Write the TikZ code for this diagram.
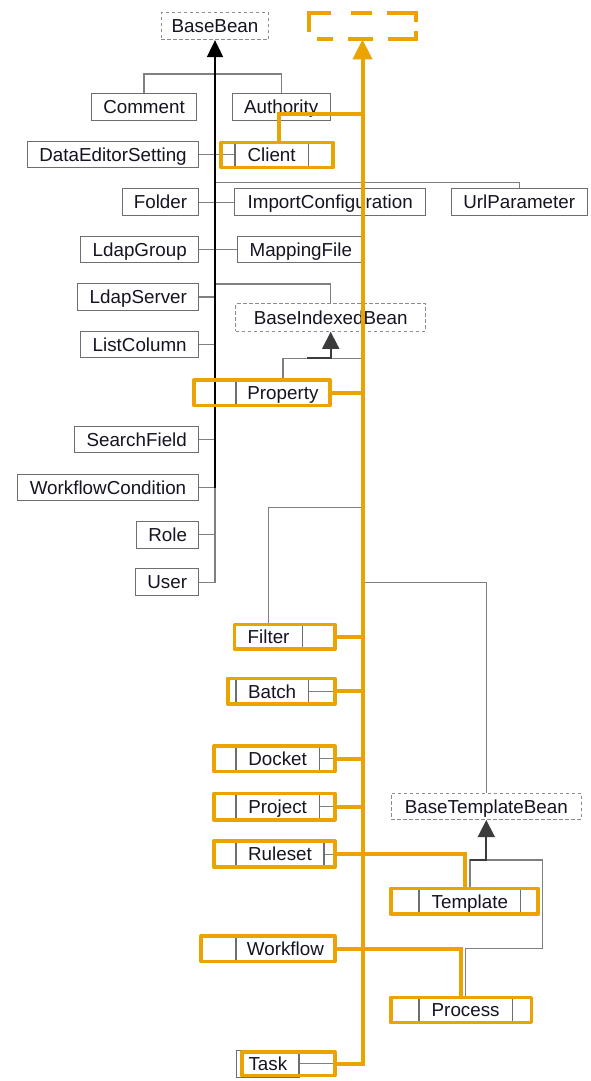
\documentclass[tikz,border=0pt]{standalone}
\usepackage{fontspec}
\setmainfont{Liberation Sans}
\usetikzlibrary{arrows.meta}
\definecolor{hlorange}{RGB}{234,163,0}
\definecolor{boxgray}{RGB}{110,110,110}
\definecolor{linegray}{RGB}{128,128,128}
\definecolor{dashgray}{RGB}{140,140,140}
\definecolor{darkline}{RGB}{60,60,60}
\definecolor{txt}{RGB}{20,20,35}
\tikzset{
  cls/.style={draw=boxgray, line width=1.2pt, fill=white, inner sep=0pt,
    minimum height=26.7pt, text height=13.5pt, text depth=0pt, text=txt,
    font=\fontsize{18.8}{22}\selectfont},
  acls/.style={cls, draw=dashgray, dash pattern=on 3.5pt off 2.5pt},
  inner/.style={cls, minimum height=27pt},
  hl/.style={draw=hlorange, line width=3.6pt, line join=round, inner sep=0pt},
  hlanchor/.style={inner sep=0pt, minimum width=107.5pt, minimum height=25.7pt},
  hldash/.style={draw=hlorange, line width=4pt,
    dash pattern=on 16pt off 15pt on 25pt off 15pt on 37.2pt off 9pt on 38.5pt off 15pt on 21pt off 20pt on 41pt off 13.7pt,
    dash phase=258.4pt},
  conn/.style={draw=linegray, line width=1.3pt},
  bline/.style={draw=black, line width=2pt},
  dline/.style={draw=darkline, line width=1.8pt},
  oconn/.style={draw=hlorange, line width=4pt},
}
\begin{document}
\begin{tikzpicture}[x=1pt,y=-1pt]
\fill[white] (0,0) rectangle (590,1081);
\useasboundingbox (0,0) rectangle (590,1081);

% ---------- named positions ----------
\coordinate (jU) at (215,182.3);
\coordinate (jB) at (215,284);
\coordinate (jC) at (362.5,114.3);
\coordinate (jP) at (362.5,358.3);
\coordinate (jPa) at (307,358.3);
\coordinate (jF) at (362.5,507.7);
\coordinate (jT) at (362.5,582.3);
\coordinate (tR) at (542.7,860);
\coordinate (tB) at (542.7,948.3);

% ---------- gray class boxes ----------
\node[acls, minimum width=107.6pt] (bb) at (215,26.2) {BaseBean};
\node[cls, minimum width=105.6pt] (comment) at (144,107.2) {Comment};
\node[cls, minimum width=98pt] (authority) at (281.2,107.2) {Authority};
\node[cls, minimum width=171.6pt] (des) at (113,154.5) {DataEditorSetting};
\node[cls, minimum width=76.6pt] (folder) at (160.5,202.2) {Folder};
\node[cls, minimum width=190.7pt] (impc) at (330.2,202.2) {ImportConfiguration};
\node[cls, minimum width=136pt] (urlp) at (519.2,202.2) {UrlParameter};
\node[cls, minimum width=118.3pt] (ldapg) at (139.7,249.5) {LdapGroup};
\node[cls, minimum width=127.3pt] (mapf) at (300.8,249.5) {MappingFile};
\node[cls, minimum width=121pt] (ldaps) at (138.3,297) {LdapServer};
\node[acls, minimum width=189.7pt, minimum height=27.4pt] (bib) at (330.7,317.5) {BaseIndexedBean};
\node[cls, minimum width=118.3pt] (listc) at (139.7,344.5) {ListColumn};
\node[cls, minimum width=124.3pt] (searchf) at (136.7,439.5) {SearchField};
\node[cls, minimum width=181.6pt] (wfc) at (108,487.5) {WorkflowCondition};
\node[cls, minimum width=62.3pt] (role) at (167.7,534.8) {Role};
\node[cls, minimum width=63.3pt] (user) at (167.2,582.2) {User};
\node[acls, minimum width=189.7pt, minimum height=26.3pt] (btb) at (486.3,806.3) {BaseTemplateBean};

% ---------- inner class boxes of highlighted classes ----------
\node[inner, minimum width=73.3pt] (client) at (271.65,155) {Client};
\node[inner, minimum width=93.9pt] (property) at (282.95,392.8) {Property};
\node[inner, minimum width=68.2pt] (filter) at (268.6,636.85) {Filter};
\node[inner, minimum width=72.3pt] (batch) at (272.15,691.35) {Batch};
\node[inner, minimum width=83.3pt] (docket) at (277.65,758.8) {Docket};
\node[inner, minimum width=83.3pt] (project) at (277.65,806.7) {Project};
\node[inner, minimum width=88pt] (ruleset) at (280,854.15) {Ruleset};
\node[inner, minimum width=101.7pt] (template) at (469.85,901.35) {Template};
\node[inner, minimum width=98.9pt] (workflow) at (285.45,948.8) {Workflow};
\node[inner, minimum width=93.3pt] (process) at (465.65,1010) {Process};
\node[inner, minimum width=62.3pt] (task) at (267.85,1063.65) {Task};

% ---------- gray connectors ----------
\draw[conn] (comment.north) -- ++(0,-19.3) -| (authority.north);
\draw[conn] (des.east) -- (des.east -| client.west);
\draw[conn] (jU) -| (urlp.north);
\draw[conn] (folder.east) -- (impc.west);
\draw[conn] (ldapg.east) -- (mapf.west);
\draw[conn] (jB) -| (bib.north);
\draw[conn] (ldaps.east) -- (ldaps.east -| bb.south);
\draw[conn] (listc.east) -- (listc.east -| bb.south);
\draw[conn] (searchf.east) -- (searchf.east -| bb.south);
\draw[conn] (wfc.east) -- (wfc.east -| bb.south);
\draw[conn] (role.east) -- (role.east -| bb.south);
\draw[conn] (user.east) -- (user.east -| bb.south) -- (wfc.east -| bb.south);
\draw[conn] (property.north) |- (jP);
\draw[conn] (filter.north) |- (jF);
\draw[conn] (jT) -| (btb.north);
\draw[conn] (template.north) |- (tR) -- (tB) -| (process.north);
\draw[conn] (batch.east) -- (batch.east -| jP);
\draw[conn] (docket.east) -- (docket.east -| jP);
\draw[conn] (project.east) -- (project.east -| jP);
\draw[conn] (ruleset.east) -- (ruleset.east -| jP);
\draw[conn] (task.east) -- (task.east -| jP);

% ---------- generalization arrows ----------
\draw[bline, -{Triangle[length=17pt,width=16pt]}] (wfc.east -| bb.south) -- (bb.south);
\draw[dline, -{Triangle[length=17pt,width=17pt]}] (jPa) -| (bib.south);
\draw[dline, -{Triangle[length=17pt,width=17pt]}] (template.north |- tR) -| (btb.south);

% ---------- highlight boxes ----------
\node[hlanchor] (obox) at (362.5,26.35) {};
\draw[hldash] (obox.south west) -- (obox.south east) -- (obox.north east) -- (obox.north west) -- cycle;
\node[hl, minimum width=112.1pt, minimum height=25pt] (clientH) at (277.15,155) {};
\node[hl, minimum width=135.8pt, minimum height=25.4pt] (propertyH) at (262,392.8) {};
\node[hl, minimum width=100.4pt, minimum height=24.7pt] (filterH) at (284.7,636.85) {};
\node[hl, minimum width=107.1pt, minimum height=25.7pt] (batchH) at (281.35,691.35) {};
\node[hl, minimum width=120.8pt, minimum height=25.4pt] (docketH) at (274.5,758.8) {};
\node[hl, minimum width=120.8pt, minimum height=26.4pt] (projectH) at (274.5,806.7) {};
\node[hl, minimum width=120.8pt, minimum height=26.1pt] (rulesetH) at (274.5,854.15) {};
\node[hl, minimum width=147.4pt, minimum height=25.7pt] (templateH) at (464.5,901.35) {};
\node[hl, minimum width=133.8pt, minimum height=25.4pt] (workflowH) at (268,948.8) {};
\node[hl, minimum width=140.7pt, minimum height=25pt] (processH) at (461.15,1010) {};
\node[hl, minimum width=93.1pt, minimum height=23.7pt] (taskH) at (288.35,1063.65) {};

% ---------- highlighted connectors ----------
\draw[oconn] ([xshift=2pt]clientH.north) |- (jC);
\draw[oconn] (propertyH.east) -- (propertyH.east -| obox.south);
\draw[oconn] (filterH.east) -- (filterH.east -| obox.south);
\draw[oconn] (batchH.east) -- (batchH.east -| obox.south);
\draw[oconn] (docketH.east) -- (docketH.east -| obox.south);
\draw[oconn] (projectH.east) -- (projectH.east -| obox.south);
\draw[oconn] (rulesetH.east) -| (templateH.north);
\draw[oconn] (workflowH.east) -| (processH.north);
\draw[oconn, -{Triangle[length=20pt,width=19pt]}] (taskH.east) -- (taskH.east -| obox.south) -- (obox.south);
\end{tikzpicture}
\end{document}
